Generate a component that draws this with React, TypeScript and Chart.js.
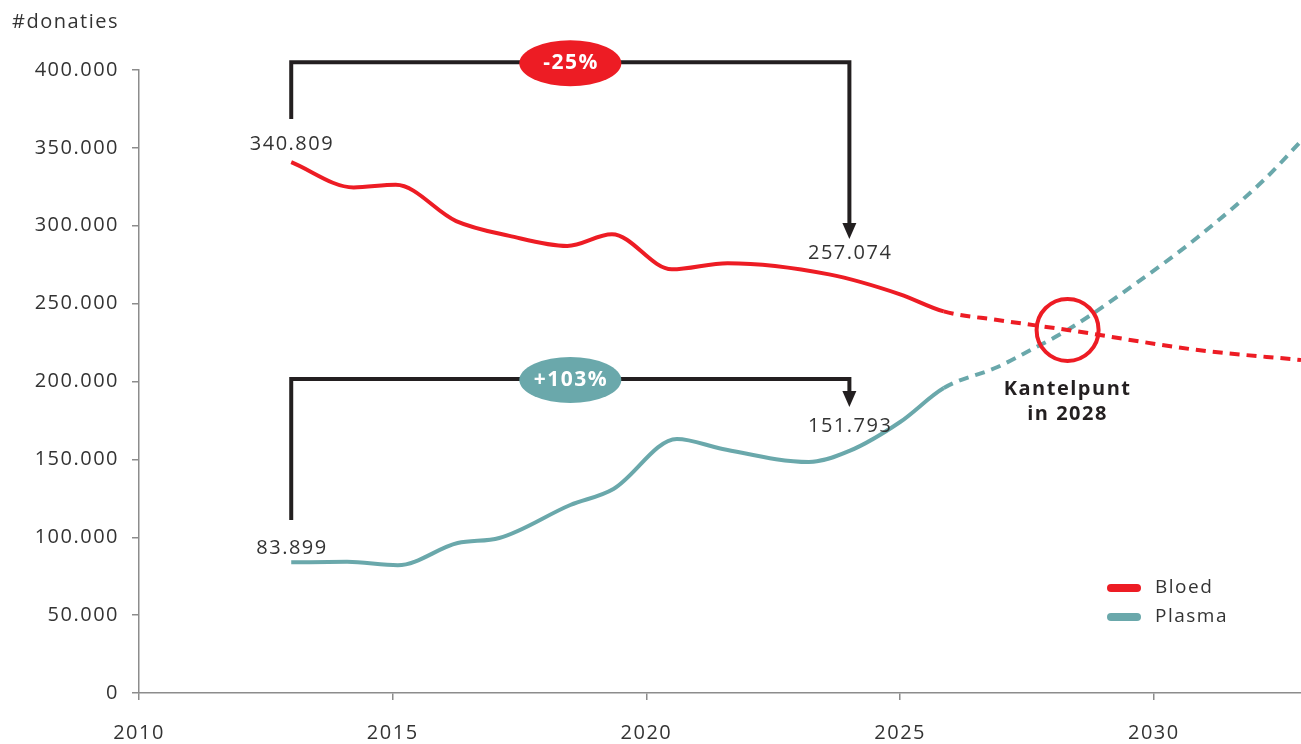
import React, { useEffect, useRef } from "react";
import { Chart, registerables } from "chart.js";

Chart.register(...registerables);

// ---------- data ----------
const seriesNames = ["Bloed", "Plasma"];
const seriesColors = ["#ED1C24", "#6AA8AB"];
const forecastStart = 2025.86;

const bloedYears = [2013, 2014.23, 2015.06, 2016.25, 2017.3, 2018.44, 2019.32, 2020.5, 2021.6, 2023.6, 2025, 2025.86, 2026.92, 2028.3, 2030.87, 2032.9];
const bloedValues = [340809, 324600, 326300, 303000, 293500, 287000, 294500, 272000, 276000, 268800, 256000, 245000, 239500, 233100, 220200, 213800];

const plasmaYears = [2013, 2014.1, 2015.1, 2016.28, 2017.1, 2018.5, 2019.35, 2020.6, 2021.5, 2023.2, 2024, 2025, 2025.86, 2026.92, 2027.57, 2028.3, 2029.55, 2030.87, 2032.17, 2032.92];
const plasmaValues = [83899, 84200, 82000, 96300, 99500, 120700, 131000, 163100, 156700, 148300, 155400, 174000, 195800, 209300, 220200, 233100, 260700, 292800, 329400, 355000];

const xMin = 2010;
const xMax = 2032.9;
const xStep = 5;
const yMin = 0;
const yMax = 400000;
const yStep = 50000;
const yTitle = "#donaties";

// bracket annotations (data space)
const bracketFrom = [2013, 2013];
const bracketTo = [2024, 2024];
const bracketLegBottom = [368500, 111000];
const bracketTop = [405000, 201600];
const bracketTip = [291500, 183600];
const bracketLabels = ["-25%", "+103%"];
const bracketLabelX = [2018.5, 2018.5];

// value labels
const valueLabelText = ["340.809", "257.074", "83.899", "151.793"];
const valueLabelX = [2013, 2024, 2013, 2024];
const valueLabelY = [352500, 282000, 93100, 171000];

// tipping point
const tippingYear = 2028.3;
const tippingValue = 233100;
const tippingText = ["Kantelpunt", "in 2028"];
const tippingTextY = [195200, 179100];

const FONT = '"Open Sans", "Noto Sans", sans-serif';
const TEXT = "#333333";
const DARK = "#231f20";
const AXIS = "#8c8c8c";
const SPACING = "1.5px";

const fmt = (v: number) => String(Math.round(v)).replace(/\B(?=(\d{3})+(?!\d))/g, ".");

const spacingPlugin = {
  id: "spacing",
  beforeDraw(chart: any) {
    (chart.ctx as any).letterSpacing = SPACING;
  },
};

const annotationPlugin = {
  id: "annotations",
  afterDatasetsDraw(chart: any) {
    const ctx: CanvasRenderingContext2D = chart.ctx;
    const xs = chart.scales.x;
    const ys = chart.scales.y;
    const area = chart.chartArea;
    ctx.save();
    (ctx as any).letterSpacing = SPACING;

    // y title
    ctx.fillStyle = TEXT;
    ctx.font = `20px ${FONT}`;
    ctx.textAlign = "left";
    ctx.textBaseline = "middle";
    ctx.fillText(yTitle, 12, area.top - 48);

    // brackets
    for (let i = 0; i < bracketFrom.length; i++) {
      const x0 = xs.getPixelForValue(bracketFrom[i]);
      const x1 = xs.getPixelForValue(bracketTo[i]);
      const yb = ys.getPixelForValue(bracketLegBottom[i]);
      const yt = ys.getPixelForValue(bracketTop[i]);
      const ytip = ys.getPixelForValue(bracketTip[i]);
      const head = 16;
      ctx.strokeStyle = DARK;
      ctx.lineWidth = 4;
      ctx.lineJoin = "miter";
      ctx.lineCap = "butt";
      ctx.beginPath();
      ctx.moveTo(x0, yb);
      ctx.lineTo(x0, yt);
      ctx.lineTo(x1, yt);
      ctx.lineTo(x1, ytip - head + 1);
      ctx.stroke();
      ctx.fillStyle = DARK;
      ctx.beginPath();
      ctx.moveTo(x1 - 7, ytip - head);
      ctx.lineTo(x1 + 7, ytip - head);
      ctx.lineTo(x1, ytip);
      ctx.closePath();
      ctx.fill();

      // ellipse label
      const cx = xs.getPixelForValue(bracketLabelX[i]);
      ctx.fillStyle = seriesColors[i];
      ctx.beginPath();
      ctx.ellipse(cx, yt + 1, 51, 23, 0, 0, Math.PI * 2);
      ctx.fill();
      ctx.fillStyle = "#ffffff";
      ctx.font = `bold 21px ${FONT}`;
      ctx.textAlign = "center";
      ctx.textBaseline = "middle";
      ctx.fillText(bracketLabels[i], cx + 0.75, yt + 1);
    }

    // value labels
    ctx.fillStyle = TEXT;
    ctx.font = `20px ${FONT}`;
    ctx.textAlign = "center";
    ctx.textBaseline = "middle";
    for (let i = 0; i < valueLabelText.length; i++) {
      ctx.fillText(valueLabelText[i], xs.getPixelForValue(valueLabelX[i]) + 0.75, ys.getPixelForValue(valueLabelY[i]));
    }

    // tipping point circle
    const tx = xs.getPixelForValue(tippingYear);
    ctx.strokeStyle = seriesColors[0];
    ctx.lineWidth = 4;
    ctx.beginPath();
    ctx.arc(tx, ys.getPixelForValue(tippingValue), 31, 0, Math.PI * 2);
    ctx.stroke();
    ctx.fillStyle = DARK;
    ctx.font = `bold 20px ${FONT}`;
    for (let i = 0; i < tippingText.length; i++) {
      ctx.fillText(tippingText[i], tx, ys.getPixelForValue(tippingTextY[i]));
    }

    // legend
    const lx = area.right - 194;
    let ly = area.bottom - 105;
    chart.data.datasets.forEach((ds: any) => {
      ctx.strokeStyle = ds.borderColor;
      ctx.lineWidth = 8;
      ctx.lineCap = "round";
      ctx.beginPath();
      ctx.moveTo(lx + 4, ly);
      ctx.lineTo(lx + 30, ly);
      ctx.stroke();
      ctx.fillStyle = TEXT;
      ctx.font = `19px ${FONT}`;
      ctx.textAlign = "left";
      ctx.textBaseline = "middle";
      ctx.fillText(ds.label, lx + 48, ly);
      ly += 29;
    });

    ctx.restore();
  },
};

export default function App() {
  const canvasRef = useRef<HTMLCanvasElement | null>(null);

  useEffect(() => {
    if (!canvasRef.current) return;
    const makeData = (xsArr: number[], vals: number[]) => xsArr.map((x, i) => ({ x, y: vals[i] }));
    const dash = (ctx: any) => (ctx.p0.parsed.x >= forecastStart - 1e-6 ? [10, 7] : undefined);
    const chart = new Chart(canvasRef.current, {
      type: "line",
      data: {
        datasets: [
          {
            label: seriesNames[0],
            data: makeData(bloedYears, bloedValues),
            borderColor: seriesColors[0],
            backgroundColor: seriesColors[0],
            borderWidth: 4,
            pointRadius: 0,
            cubicInterpolationMode: "monotone",
            fill: false,
            segment: { borderDash: dash },
          },
          {
            label: seriesNames[1],
            data: makeData(plasmaYears, plasmaValues),
            borderColor: seriesColors[1],
            backgroundColor: seriesColors[1],
            borderWidth: 4,
            pointRadius: 0,
            cubicInterpolationMode: "monotone",
            fill: false,
            segment: { borderDash: dash },
          },
        ],
      },
      options: {
        animation: false,
        responsive: true,
        maintainAspectRatio: false,
        layout: { padding: { top: 70, right: 0, bottom: 0, left: 0 } },
        plugins: { legend: { display: false }, tooltip: { enabled: false }, title: { display: false } },
        scales: {
          x: {
            type: "linear",
            min: xMin,
            max: xMax,
            afterFit: (s: any) => {
              s.height = 51;
            },
            ticks: {
              stepSize: xStep,
              includeBounds: false,
              color: TEXT,
              font: { family: FONT, size: 20 },
              padding: 21,
              maxRotation: 0,
              callback: (v: any) => String(v),
            },
            grid: { display: true, drawOnChartArea: false, drawTicks: true, tickLength: 7, color: AXIS, lineWidth: 1.5 },
            border: { display: true, color: AXIS, width: 1.5 },
          },
          y: {
            type: "linear",
            min: yMin,
            max: yMax,
            afterFit: (s: any) => {
              s.width = 139;
            },
            ticks: {
              stepSize: yStep,
              color: TEXT,
              font: { family: FONT, size: 20 },
              padding: 13,
              callback: (v: any) => fmt(Number(v)),
            },
            grid: { display: true, drawOnChartArea: false, drawTicks: true, tickLength: 7, color: AXIS, lineWidth: 1.5 },
            border: { display: true, color: AXIS, width: 1.5 },
          },
        },
      } as any,
      plugins: [spacingPlugin, annotationPlugin],
    });
    return () => chart.destroy();
  }, []);

  return (
    <div style={{ position: "fixed", left: 0, top: 0, width: 1301, height: 744, background: "#ffffff" }}>
      <canvas ref={canvasRef} />
    </div>
  );
}
